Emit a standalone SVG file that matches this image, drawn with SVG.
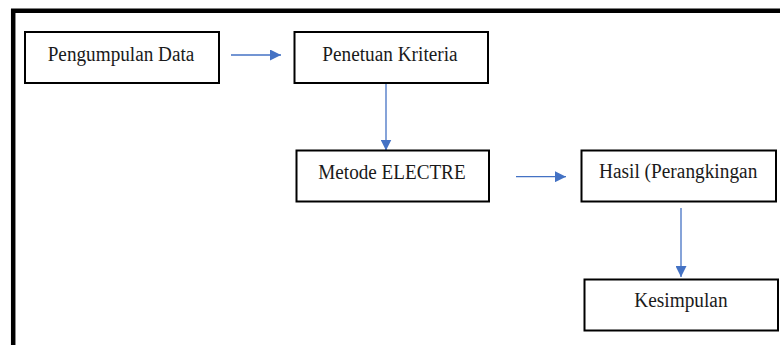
<svg xmlns="http://www.w3.org/2000/svg" width="780" height="345" viewBox="0 0 780 345">
  <defs>
    <style>
      .box { fill: #ffffff; stroke: #000000; stroke-width: 2; }
      .label { font-family: 'Liberation Serif', 'Times New Roman', Times, serif; font-size: 20.5px; fill: #1a1a1a; }
      .link { stroke: #4472c4; stroke-width: 1.3; fill: none; marker-end: url(#head); }
      .frame { stroke: #000000; stroke-width: 4.5; fill: none; }
    </style>
    <marker id="head" viewBox="0 0 10 10" refX="10" refY="5" markerWidth="11" markerHeight="11" markerUnits="userSpaceOnUse" orient="auto">
      <path d="M0,0 L10,5 L0,10 Z" fill="#4472c4"/>
    </marker>
  </defs>

  <rect width="780" height="345" fill="#ffffff"/>

  <!-- outer frame: top and left edges visible -->
  <path class="frame" d="M13.2,345 L13.2,10.8 L780,10.8"/>

  <g id="connectors">
    <line class="link" x1="231" y1="55" x2="281" y2="55"/>
    <line class="link" x1="386" y1="84" x2="386" y2="150.5"/>
    <line class="link" x1="516" y1="176.7" x2="566" y2="176.7"/>
    <line class="link" x1="681" y1="208" x2="681" y2="277"/>
  </g>

  <g id="pengumpulan-data">
    <rect class="box" x="25" y="32" width="194" height="51"/>
    <text class="label" x="47.7" y="61" textLength="146.7" lengthAdjust="spacingAndGlyphs">Pengumpulan Data</text>
  </g>

  <g id="penetuan-kriteria">
    <rect class="box" x="294.5" y="32" width="193.5" height="51"/>
    <text class="label" x="322.3" y="61" textLength="135.3" lengthAdjust="spacingAndGlyphs">Penetuan Kriteria</text>
  </g>

  <g id="metode-electre">
    <rect class="box" x="296.5" y="150.5" width="192.5" height="51"/>
    <text class="label" x="318.3" y="179" textLength="147.3" lengthAdjust="spacingAndGlyphs">Metode ELECTRE</text>
  </g>

  <g id="hasil">
    <rect class="box" x="581.5" y="150.5" width="194.5" height="51"/>
    <text class="label" x="599" y="178" textLength="158.3" lengthAdjust="spacingAndGlyphs">Hasil (Perangkingan</text>
  </g>

  <g id="kesimpulan">
    <rect class="box" x="584.5" y="279.5" width="193.5" height="51"/>
    <text class="label" x="634.3" y="307" textLength="93.3" lengthAdjust="spacingAndGlyphs">Kesimpulan</text>
  </g>
</svg>
